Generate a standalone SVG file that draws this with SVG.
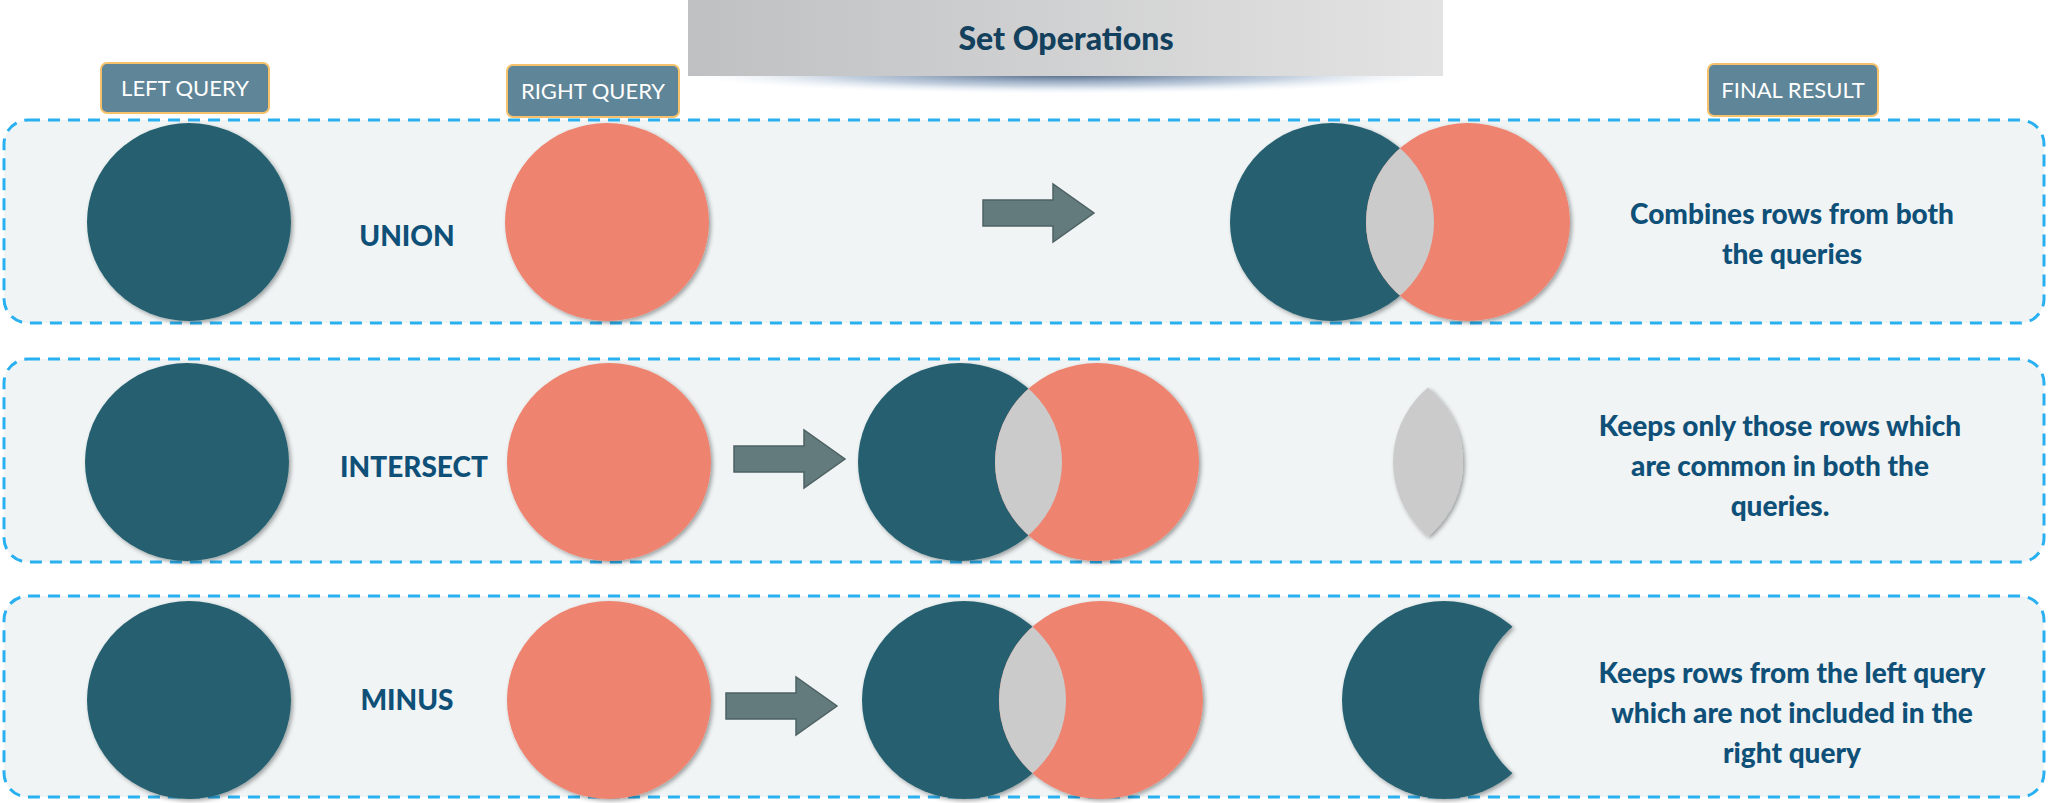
<svg xmlns="http://www.w3.org/2000/svg" width="2048" height="803" viewBox="0 0 2048 803">
<style>
.row{fill:#f0f4f5;stroke:#29b0f0;stroke-width:3;stroke-dasharray:12 8}
.dk{fill:#256170}.sm{fill:#ee836f}.gr{fill:#cbcbcb}
.lbl{fill:#5f8598;stroke:#f5c26b;stroke-width:2}
.lt{font-family:Lato,"Liberation Sans",sans-serif;font-size:22px;fill:#fff;text-anchor:middle}
.op{font-family:Lato,"Liberation Sans",sans-serif;font-weight:900;font-size:28px;fill:#0f5078;text-anchor:middle}
.ds{font-family:Lato,"Liberation Sans",sans-serif;font-weight:900;font-size:28px;fill:#0f5078;text-anchor:middle}
.arr{fill:#637b7d;stroke:#4e6264;stroke-width:1.5}
</style>
<defs>
<linearGradient id="tg" x1="0" x2="1"><stop offset="0" stop-color="#bfc0c2"/><stop offset="1" stop-color="#e3e3e3"/></linearGradient>
<radialGradient id="sh"><stop offset="0" stop-color="#2f4a6e" stop-opacity="0.9"/><stop offset="0.6" stop-color="#7a96b8" stop-opacity="0.45"/><stop offset="1" stop-color="#dbe7f3" stop-opacity="0"/></radialGradient>
<filter id="ds" x="-10%" y="-10%" width="130%" height="130%"><feDropShadow dx="2" dy="2" stdDeviation="2" flood-opacity="0.35"/></filter>
<path id="ar" d="M0,16 H70 V0 L111,29 L70,58 V42 H0 Z"/>
<clipPath id="c1"><ellipse cx="1468" cy="222" rx="102" ry="99"/></clipPath>
<clipPath id="c2"><ellipse cx="1097" cy="462" rx="102" ry="99"/></clipPath>
<clipPath id="c3"><ellipse cx="1101" cy="700" rx="102" ry="99"/></clipPath>
<clipPath id="c4"><ellipse cx="1495" cy="462" rx="102" ry="99"/></clipPath>
<mask id="m5"><rect width="2048" height="803" fill="#fff"/><ellipse cx="1581" cy="700" rx="102" ry="99" fill="#000"/></mask>
</defs>
<g id="title">
<ellipse cx="1066" cy="74" rx="380" ry="20" fill="url(#sh)"/>
<rect x="688" y="0" width="755" height="76" fill="url(#tg)"/>
<text x="1066" y="50" font-family="Lato,'Liberation Sans',sans-serif" font-weight="900" font-size="32" fill="#13405c" text-anchor="middle">Set Operations</text>
</g>
<g id="labels">
<rect class="lbl" x="101" y="63" width="168" height="50" rx="6"/><text class="lt" x="185" y="96">LEFT QUERY</text>
<rect class="lbl" x="507" y="65" width="172" height="52" rx="6"/><text class="lt" x="593" y="99">RIGHT QUERY</text>
<rect class="lbl" x="1708" y="64" width="170" height="52" rx="6"/><text class="lt" x="1793" y="98">FINAL RESULT</text>
</g>
<g id="union">
<rect class="row" x="4" y="120" width="2040" height="203" rx="24"/>
<ellipse class="dk" filter="url(#ds)" cx="189" cy="222" rx="102" ry="99"/>
<ellipse class="sm" filter="url(#ds)" cx="607" cy="222" rx="102" ry="99"/>
<text class="op" x="407" y="246">UNION</text>
<g filter="url(#ds)"><ellipse class="dk" cx="1332" cy="222" rx="102" ry="99"/><ellipse class="sm" cx="1468" cy="222" rx="102" ry="99"/><ellipse class="gr" clip-path="url(#c1)" cx="1332" cy="222" rx="102" ry="99"/></g>
<text class="ds" x="1792" y="224">Combines rows from both</text>
<text class="ds" x="1792" y="264">the queries</text>
</g>
<g id="intersect">
<rect class="row" x="4" y="359" width="2040" height="203" rx="24"/>
<ellipse class="dk" filter="url(#ds)" cx="187" cy="462" rx="102" ry="99"/>
<ellipse class="sm" filter="url(#ds)" cx="609" cy="462" rx="102" ry="99"/>
<text class="op" x="414" y="477">INTERSECT</text>
<g filter="url(#ds)"><ellipse class="dk" cx="960" cy="462" rx="102" ry="99"/><ellipse class="sm" cx="1097" cy="462" rx="102" ry="99"/><ellipse class="gr" clip-path="url(#c2)" cx="960" cy="462" rx="102" ry="99"/></g>
<g filter="url(#ds)"><ellipse class="gr" clip-path="url(#c4)" cx="1361" cy="462" rx="102" ry="99"/></g>
<text class="ds" x="1780" y="436">Keeps only those rows which</text>
<text class="ds" x="1780" y="476">are common in both the</text>
<text class="ds" x="1780" y="516">queries.</text>
</g>
<g id="minus">
<rect class="row" x="4" y="596" width="2040" height="201" rx="24"/>
<ellipse class="dk" filter="url(#ds)" cx="189" cy="700" rx="102" ry="99"/>
<ellipse class="sm" filter="url(#ds)" cx="609" cy="700" rx="102" ry="99"/>
<text class="op" x="407" y="710">MINUS</text>
<g filter="url(#ds)"><ellipse class="dk" cx="964" cy="700" rx="102" ry="99"/><ellipse class="sm" cx="1101" cy="700" rx="102" ry="99"/><ellipse class="gr" clip-path="url(#c3)" cx="964" cy="700" rx="102" ry="99"/></g>
<g filter="url(#ds)"><ellipse class="dk" mask="url(#m5)" cx="1444" cy="700" rx="102" ry="99"/></g>
<text class="ds" x="1792" y="683">Keeps rows from the left query</text>
<text class="ds" x="1792" y="723">which are not included in the</text>
<text class="ds" x="1792" y="763">right query</text>
</g>
<g id="connectors">
<use href="#ar" class="arr" x="983" y="184"/>
<use href="#ar" class="arr" x="734" y="430"/>
<use href="#ar" class="arr" x="726" y="677"/>
</g>
</svg>
